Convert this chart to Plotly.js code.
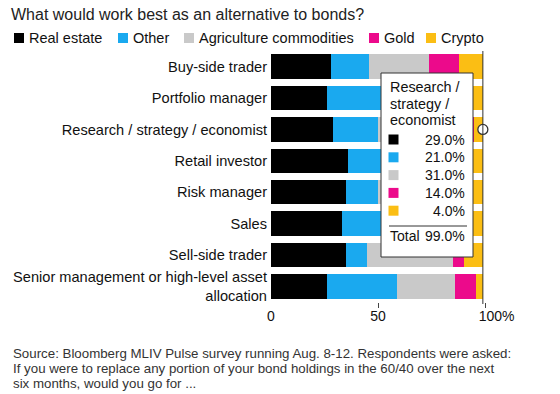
<!DOCTYPE html>
<html>
<head>
<meta charset="utf-8">
<script src="https://cdn.plot.ly/plotly-3.0.1.min.js"></script>
<style>
  html, body { margin: 0; padding: 0; background: #fff; }
  #chart { width: 560px; height: 394px; }
</style>
</head>
<body>
<div id="chart"></div>
<script>
// ---- data ----
const categories = [
  "Buy-side trader",
  "Portfolio manager",
  "Research / strategy / economist",
  "Retail investor",
  "Risk manager",
  "Sales",
  "Sell-side trader",
  "Senior management or high-level asset<br>allocation"
];
const seriesNames = ["Real estate", "Other", "Agriculture commodities", "Gold", "Crypto"];
const realEstate = [28, 26, 29, 36, 35, 33, 35, 26];
const other      = [18, 27, 21, 20, 15, 25, 10, 33];
const agri       = [28, 27, 31, 22, 30, 22, 40, 27];
const gold       = [14, 10, 14, 12, 12, 11,  5, 10];
const crypto     = [11,  9,  4,  9,  7,  8,  9,  3];
const xTickVals  = [0, 50, 100];
const xTickText  = ["0", "50", "\u00a0\u00a0\u00a0\u00a0\u00a0\u00a0100%"];
const hoveredIndex = 2; // category shown in the tooltip

// ---- styling ----
const colors = ["#000000", "#1aa9ef", "#c9c9c9", "#ec0a8b", "#fbbe14"];
const FONT = "Liberation Sans, Arial, Helvetica, sans-serif";
const W = 560, H = 394;
const L = 271, R = 485, T = 51, B = 302;
const xp = px => (px - L) / (R - L);
const yp = py => (B - py) / (B - T);

const series = [realEstate, other, agri, gold, crypto];
const traces = series.map((vals, i) => ({
  type: "bar",
  orientation: "h",
  name: seriesNames[i],
  y: categories,
  x: vals,
  marker: { color: colors[i], line: { width: 0 } },
  hoverinfo: "skip",
  showlegend: false
}));

const totals = categories.map((_, k) => series.reduce((s, arr) => s + arr[k], 0));
const hx = totals[hoveredIndex];

traces.push({
  type: "scatter",
  mode: "markers",
  x: [hx],
  y: [categories[hoveredIndex]],
  marker: { size: 10, color: "#ffffff", line: { color: "#333333", width: 1.3 } },
  hoverinfo: "skip",
  showlegend: false,
  cliponaxis: false
});

const shapes = [];
const annotations = [];

// spike line at hovered total
shapes.push({
  type: "line", xref: "x", yref: "paper",
  x0: hx, x1: hx, y0: yp(304), y1: 1,
  line: { color: "#333333", width: 1 }, layer: "above"
});

// ---- legend (manual, to match spacing) ----
const legSq = [14, 118, 184, 369, 426];
seriesNames.forEach((n, i) => {
  shapes.push({
    type: "rect", xref: "paper", yref: "paper",
    x0: xp(legSq[i]), x1: xp(legSq[i] + 10),
    y0: yp(43), y1: yp(33),
    fillcolor: colors[i], line: { width: 0 }
  });
  annotations.push({
    xref: "paper", yref: "paper",
    x: xp(legSq[i] + 13), y: yp(38),
    xanchor: "left", yanchor: "middle",
    text: n, showarrow: false,
    font: { family: FONT, size: 14.5, color: "#111111" }
  });
});

// ---- tooltip box ----
shapes.push({
  type: "rect", xref: "paper", yref: "paper",
  x0: xp(381), x1: xp(473), y0: yp(257), y1: yp(73),
  fillcolor: "#ffffff", line: { color: "#333333", width: 1 }, layer: "above"
});
const headerParts = categories[hoveredIndex].split(" / ");
const headerLines = headerParts.map((p, i) => i < headerParts.length - 1 ? p + " /" : p);
headerLines.forEach((t, i) => {
  annotations.push({
    xref: "paper", yref: "paper",
    x: xp(388), y: yp(87 + i * 16.5),
    xanchor: "left", yanchor: "middle",
    text: t, showarrow: false,
    font: { family: FONT, size: 14.4, color: "#111111" }
  });
});
series.forEach((arr, i) => {
  const cy = 139.5 + i * 17.8;
  shapes.push({
    type: "rect", xref: "paper", yref: "paper",
    x0: xp(388.5), x1: xp(398.5), y0: yp(cy + 5), y1: yp(cy - 5),
    fillcolor: colors[i], line: { width: 0 }, layer: "above"
  });
  annotations.push({
    xref: "paper", yref: "paper",
    x: xp(467), y: yp(cy),
    xanchor: "right", yanchor: "middle",
    text: arr[hoveredIndex].toFixed(1) + "%", showarrow: false,
    font: { family: FONT, size: 14, color: "#111111" }
  });
});
shapes.push({
  type: "line", xref: "paper", yref: "paper",
  x0: xp(389), x1: xp(467), y0: yp(226), y1: yp(226),
  line: { color: "#333333", width: 1 }, layer: "above"
});
annotations.push({
  xref: "paper", yref: "paper", x: xp(388), y: yp(236),
  xanchor: "left", yanchor: "middle", text: "Total", showarrow: false,
  font: { family: FONT, size: 14, color: "#111111" }
});
annotations.push({
  xref: "paper", yref: "paper", x: xp(467), y: yp(236),
  xanchor: "right", yanchor: "middle", text: totals[hoveredIndex].toFixed(1) + "%", showarrow: false,
  font: { family: FONT, size: 14, color: "#111111" }
});

// ---- source note ----
const sourceLines = [
  "Source: Bloomberg MLIV Pulse survey running Aug. 8-12. Respondents were asked:",
  "If you were to replace any portion of your bond holdings in the 60/40 over the next",
  "six months, would you go for ..."
];
sourceLines.forEach((t, i) => {
  annotations.push({
    xref: "paper", yref: "paper",
    x: xp(11), y: yp(353 + i * 15),
    xanchor: "left", yanchor: "middle",
    text: t, showarrow: false,
    font: { family: FONT, size: 13.3, color: "#333333" }
  });
});

const layout = {
  width: W, height: H,
  margin: { l: L, r: W - R, t: T, b: H - B, pad: 0 },
  paper_bgcolor: "#ffffff",
  plot_bgcolor: "#ffffff",
  barmode: "stack",
  bargap: 0.22,
  showlegend: false,
  hovermode: false,
  font: { family: FONT, color: "#111111" },
  title: {
    text: "What would work best as an alternative to bonds?",
    xref: "container", yref: "container",
    x: 11 / W, xanchor: "left",
    y: 1 - 14 / H, yanchor: "middle",
    font: { family: FONT, size: 16, color: "#222222" }
  },
  xaxis: {
    range: [0, 100],
    tickmode: "array",
    tickvals: xTickVals,
    ticktext: xTickText,
    ticks: "",
    ticklabelstandoff: 4,
    showgrid: false, zeroline: false, showline: false,
    tickfont: { family: FONT, size: 14, color: "#111111" },
    minor: { tickmode: "array", tickvals: [50, 100], ticks: "outside", ticklen: 5, tickcolor: "#444444", tickwidth: 1, showgrid: false },
    fixedrange: true
  },
  yaxis: {
    type: "category",
    categoryorder: "array",
    categoryarray: categories,
    autorange: "reversed",
    ticks: "",
    ticklabelstandoff: 3,
    showgrid: false, zeroline: false, showline: false,
    tickfont: { family: FONT, size: 14.6, color: "#111111" },
    fixedrange: true
  },
  shapes: shapes,
  annotations: annotations
};

Plotly.newPlot("chart", traces, layout, { displayModeBar: false, staticPlot: true });
</script>
</body>
</html>
